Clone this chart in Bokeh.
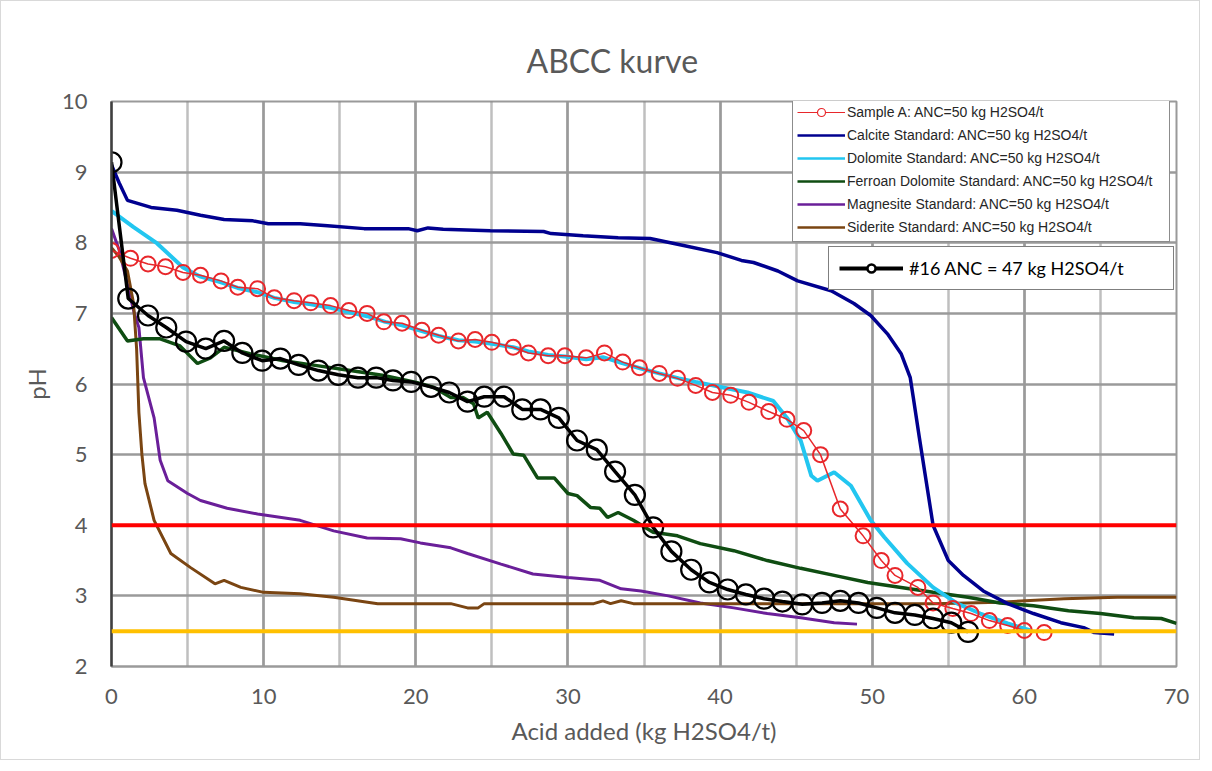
from bokeh.plotting import figure
from bokeh.models import (Range1d, SingleIntervalTicker, Legend, LegendItem,
                          ColumnDataSource, Span)
from bokeh.embed import file_html
from bokeh.resources import INLINE

# ---------------- data ----------------
sampleA_x = [0, 1.25, 2.4, 3.55, 4.7, 5.85, 7.2, 8.3, 9.6, 10.7, 12.0, 13.1, 14.4, 15.6, 16.8, 17.9,
             19.1, 20.4, 21.5, 22.8, 23.9, 25.0, 26.4, 27.4, 28.7, 29.8, 31.2, 32.4, 33.6, 34.7, 36.0,
             37.2, 38.4, 39.5, 40.7, 41.9, 43.2, 44.4, 45.5, 46.6, 47.9, 49.4, 50.6, 51.5, 53.0, 54.0,
             55.3, 56.5, 57.7, 58.9, 60.0, 61.3]
sampleA_y = [7.89, 7.78, 7.70, 7.66, 7.58, 7.54, 7.46, 7.37, 7.35, 7.22, 7.18, 7.15, 7.11, 7.04, 7.0, 6.88,
             6.86, 6.76, 6.69, 6.61, 6.63, 6.59, 6.52, 6.44, 6.40, 6.40, 6.37, 6.44, 6.31, 6.23, 6.15,
             6.08, 5.98, 5.88, 5.84, 5.74, 5.61, 5.50, 5.34, 5.0, 4.23, 3.85, 3.50, 3.29, 3.12, 2.90,
             2.82, 2.75, 2.65, 2.58, 2.51, 2.48]

calcite_x = [0, 0.5, 1.05, 2.6, 4.3, 5.85, 7.4, 9.3, 10.3, 12.4, 14.2, 16.6, 19.5, 20.1, 20.8, 21.8, 24.9,
             28.4, 28.9, 31.0, 33.3, 35.4, 37.6, 39.8, 41.4, 42.2, 43.8, 45.1, 47.3, 48.8, 49.9, 51.0,
             51.9, 52.5, 52.7, 53.1, 54.0, 55.0, 56.0, 57.3, 58.9, 60.6, 62.4, 63.9, 64.6, 65.9]
calcite_y = [9.1, 8.85, 8.6, 8.5, 8.46, 8.39, 8.33, 8.31, 8.27, 8.27, 8.24, 8.2, 8.2, 8.17, 8.21, 8.19, 8.17,
             8.16, 8.13, 8.1, 8.07, 8.06, 7.96, 7.86, 7.75, 7.72, 7.6, 7.46, 7.32, 7.14, 6.97, 6.71,
             6.43, 6.09, 5.81, 5.24, 4.0, 3.5, 3.29, 3.07, 2.89, 2.75, 2.62, 2.55, 2.48, 2.46]

dolomite_x = [0, 1.45, 3.0, 4.7, 5.85, 7.2, 8.3, 9.6, 10.7, 12.0, 13.1, 14.4, 15.6, 16.8, 18.0, 19.1, 20.4,
              21.5, 22.8, 23.9, 25.0, 26.4, 27.4, 28.7, 29.8, 31.2, 32.3, 33.5, 34.8, 36.0, 37.3, 38.4,
              40.2, 41.8, 43.5, 44.4, 45.3, 46.0, 46.4, 47.5, 48.6, 49.9, 50.8, 52.3, 54.0, 55.6, 57.1,
              58.9, 60.4]
dolomite_y = [8.45, 8.22, 7.99, 7.65, 7.52, 7.44, 7.36, 7.30, 7.22, 7.16, 7.13, 7.08, 7.02, 6.96, 6.88, 6.83, 6.75,
              6.68, 6.62, 6.60, 6.57, 6.52, 6.46, 6.41, 6.39, 6.35, 6.38, 6.30, 6.22, 6.15, 6.08, 6.03,
              5.95, 5.88, 5.76, 5.52, 5.20, 4.70, 4.63, 4.75, 4.56, 4.07, 3.83, 3.46, 3.12, 2.89, 2.75,
              2.61, 2.51]

ferroan_x = [0, 1.05, 2.1, 3.2, 4.5, 5.65, 6.5, 7.4, 9.1, 11.3, 13.5, 15.7, 17.9, 20.1, 21.2, 22.3, 23.1,
             23.8, 24.1, 24.7, 25.6, 26.4, 27.1, 28.0, 29.1, 30.0, 30.6, 31.5, 32.1, 32.6, 33.3, 34.3,
             35.6, 37.2, 38.7, 40.9, 43.1, 45.3, 47.5, 49.7, 51.9, 54.0, 56.3, 58.4, 60.6, 62.9, 65.0,
             67.2, 69.0, 70.0]
ferroan_y = [6.94, 6.61, 6.64, 6.64, 6.54, 6.29, 6.37, 6.52, 6.43, 6.33, 6.26, 6.19, 6.12, 6.02, 5.95, 5.81, 5.81,
             5.72, 5.52, 5.60, 5.30, 5.01, 4.99, 4.67, 4.67, 4.45, 4.42, 4.25, 4.24, 4.11, 4.18, 4.07,
             3.90, 3.85, 3.74, 3.64, 3.50, 3.39, 3.29, 3.19, 3.12, 3.05, 2.98, 2.90, 2.86, 2.79, 2.75,
             2.69, 2.68, 2.61]

magnesite_x = [0, 0.5, 1.5, 1.8, 2.1, 2.8, 3.2, 3.7, 5.0, 5.85, 7.6, 9.6, 12.4, 14.6, 16.8, 19.0, 20.3,
               22.3, 23.4, 25.6, 27.7, 30.0, 32.1, 33.5, 34.8, 36.6, 38.7, 40.9, 43.1, 45.3, 47.5, 49.0]
magnesite_y = [8.2, 7.9, 7.0, 6.8, 6.09, 5.52, 4.92, 4.63, 4.45, 4.35, 4.24, 4.16, 4.07, 3.92, 3.82, 3.81, 3.75,
               3.68, 3.60, 3.45, 3.31, 3.26, 3.22, 3.10, 3.07, 3.00, 2.90, 2.83, 2.75, 2.69, 2.62, 2.60]

siderite_x = [0, 0.5, 1.05, 1.45, 1.65, 1.8, 2.0, 2.2, 2.8, 3.9, 5.2, 6.8, 7.4, 8.5, 10.0, 12.4, 14.6, 17.5,
              22.3, 23.4, 24.1, 24.5, 31.7, 32.3, 32.8, 33.5, 34.3, 45.3, 54.0, 58.4, 62.6, 66.1, 70.0]
siderite_y = [7.93, 7.8, 7.6, 7.14, 6.5, 5.6, 5.0, 4.59, 4.07, 3.6, 3.4, 3.17, 3.22, 3.12, 3.05, 3.03, 2.98, 2.89,
              2.89, 2.83, 2.83, 2.89, 2.89, 2.93, 2.89, 2.93, 2.89, 2.89, 2.89, 2.91, 2.96, 2.98, 2.98]

s16_x = [0, 1.1, 2.4, 3.6, 4.9, 6.2, 7.4, 8.6, 9.9, 11.1, 12.3, 13.6, 14.9, 16.2, 17.4, 18.5, 19.7, 21.0,
         22.2, 23.4, 24.5, 25.8, 27.0, 28.2, 29.4, 30.6, 31.9, 33.1, 34.4, 35.6, 36.8, 38.1, 39.3, 40.5,
         41.7, 42.9, 44.1, 45.4, 46.7, 47.9, 49.1, 50.3, 51.5, 52.8, 54.0, 55.2, 56.3]
s16_y = [9.14, 7.21, 6.97, 6.80, 6.60, 6.50, 6.61, 6.44, 6.33, 6.36, 6.27, 6.19, 6.13, 6.09, 6.09, 6.05, 6.03, 5.96,
         5.88, 5.75, 5.82, 5.82, 5.64, 5.64, 5.52, 5.20, 5.07, 4.76, 4.43, 3.97, 3.63, 3.37, 3.19, 3.09,
         3.02, 2.96, 2.92, 2.88, 2.90, 2.93, 2.90, 2.83, 2.76, 2.73, 2.68, 2.62, 2.49]

limit_red = 4.0
limit_orange = 2.5

labels = ["Sample A: ANC=50 kg H2SO4/t",
          "Calcite Standard: ANC=50 kg H2SO4/t",
          "Dolomite Standard: ANC=50 kg H2SO4/t",
          "Ferroan Dolomite Standard: ANC=50 kg H2SO4/t",
          "Magnesite Standard: ANC=50 kg H2SO4/t",
          "Siderite Standard: ANC=50 kg H2SO4/t"]
label16 = "#16 ANC = 47 kg H2SO4/t"
title_text = "ABCC kurve"

# ---------------- figure ----------------
GRAY = "#595959"
p = figure(width=1200, height=760, output_backend="svg", toolbar_location=None,
           x_range=Range1d(0, 70), y_range=Range1d(2, 10),
           min_border_left=110, min_border_right=25, min_border_top=100, min_border_bottom=95)
p.styles = {"border": "1px solid #d9d9d9"}
p.background_fill_color = "white"
p.border_fill_color = "white"
p.outline_line_color = "#9a9a9a"
p.outline_line_width = 2

p.title.text = title_text
p.title.align = "left"
p.title.text_font = "Lato"
p.title.text_font_size = "32px"
p.title.text_font_style = "normal"
p.title.text_color = GRAY
p.title.standoff = 44
p.title.offset = 415

p.xaxis.ticker = SingleIntervalTicker(interval=10, num_minor_ticks=2)
p.yaxis.ticker = SingleIntervalTicker(interval=1, num_minor_ticks=0)

for ax in (p.xaxis[0], p.yaxis[0]):
    ax.major_tick_line_color = None
    ax.minor_tick_line_color = None
    ax.major_label_text_font = "Lato"
    ax.major_label_text_font_size = "22px"
    ax.major_label_text_color = GRAY
    ax.axis_label_text_font = "Lato"
    ax.axis_label_text_font_size = "24px"
    ax.axis_label_text_font_style = "normal"
    ax.axis_label_text_color = GRAY

p.xaxis.axis_label = "Acid added (kg H2SO4/t)"
p.yaxis.axis_label = "pH"
p.yaxis.major_label_standoff = 18
p.xaxis.major_label_standoff = 16
p.yaxis.axis_label_standoff = 8
p.xaxis.axis_label_standoff = 9
p.yaxis.axis_line_color = "#404040"
p.yaxis.axis_line_width = 2.5
p.xaxis.axis_line_color = "#9a9a9a"
p.xaxis.axis_line_width = 2

p.xgrid.grid_line_color = "#9a9a9a"
p.xgrid.grid_line_width = 2.5
p.xgrid.minor_grid_line_color = "#808080"
p.xgrid.minor_grid_line_width = 2.5
p.xgrid.minor_grid_line_dash = "1 1"
p.ygrid.grid_line_color = "#9a9a9a"
p.ygrid.grid_line_width = 2.5

# ---------------- series ----------------
C_RED = "#e8272b"
C_CALC = "#00008f"
C_DOLO = "#22c6f0"
C_FERR = "#0f4d12"
C_MAGN = "#6a1f99"
C_SIDE = "#7a4512"

p.line(magnesite_x, magnesite_y, line_color=C_MAGN, line_width=3)
p.line(siderite_x, siderite_y, line_color=C_SIDE, line_width=3)
p.line(ferroan_x, ferroan_y, line_color=C_FERR, line_width=3.5)
p.line(calcite_x, calcite_y, line_color=C_CALC, line_width=3.5)
p.line(dolomite_x, dolomite_y, line_color=C_DOLO, line_width=4)
p.line(sampleA_x, sampleA_y, line_color=C_RED, line_width=1.5)
p.scatter(sampleA_x, sampleA_y, marker="circle", size=15, line_color=C_RED, line_width=2,
          fill_alpha=0)
p.line(s16_x, s16_y, line_color="black", line_width=3.5)
p.scatter(s16_x, s16_y, marker="circle", size=20, line_color="black", line_width=2.2, fill_alpha=0)

p.add_layout(Span(location=limit_red, dimension="width", line_color="#ff0000", line_width=4))
p.add_layout(Span(location=limit_orange, dimension="width", line_color="#ffc000", line_width=4))

# ---------------- legends (legend-only renderers, kept outside the visible ranges) ----------------
def dummy():
    return ColumnDataSource(dict(x=[-100.0], y=[-100.0]))

lA = p.line("x", "y", source=dummy(), line_color=C_RED, line_width=1.2)
mA = p.scatter("x", "y", source=dummy(), marker="circle", size=6,
               line_color=C_RED, line_width=1.2, fill_color="white")
l_calc = p.line("x", "y", source=dummy(), line_color=C_CALC, line_width=2.5)
l_dolo = p.line("x", "y", source=dummy(), line_color=C_DOLO, line_width=2.5)
l_ferr = p.line("x", "y", source=dummy(), line_color=C_FERR, line_width=2.5)
l_magn = p.line("x", "y", source=dummy(), line_color=C_MAGN, line_width=2.5)
l_side = p.line("x", "y", source=dummy(), line_color=C_SIDE, line_width=2.5)
l16 = p.line("x", "y", source=dummy(), line_color="black", line_width=4)
m16 = p.scatter("x", "y", source=dummy(), marker="circle", size=15,
                line_color="black", line_width=2.5, fill_color="white")

leg1 = Legend(items=[LegendItem(label=labels[0], renderers=[lA, mA]),
                     LegendItem(label=labels[1], renderers=[l_calc]),
                     LegendItem(label=labels[2], renderers=[l_dolo]),
                     LegendItem(label=labels[3], renderers=[l_ferr]),
                     LegendItem(label=labels[4], renderers=[l_magn]),
                     LegendItem(label=labels[5], renderers=[l_side])],
              location=(681, 424), margin=0, padding=4, spacing=3,
              glyph_width=48, glyph_height=20, label_height=20, label_width=318,
              label_standoff=2, label_text_font="Liberation Sans", label_text_font_size="14px",
              label_text_color="#262626", border_line_color="#1a1a1a", border_line_width=1,
              background_fill_color="white", background_fill_alpha=1)
leg2 = Legend(items=[LegendItem(label=label16, renderers=[l16, m16])],
              location=(717, 376), margin=0, padding=10,
              glyph_width=64, glyph_height=20, label_width=254, label_standoff=6,
              label_text_font="Lato", label_text_font_size="18px", label_text_color="black",
              border_line_color="black", border_line_width=1.5,
              background_fill_color="white", background_fill_alpha=1)
p.add_layout(leg1, "center")
p.add_layout(leg2, "center")

open("out.html", "w").write(file_html(p, INLINE))
